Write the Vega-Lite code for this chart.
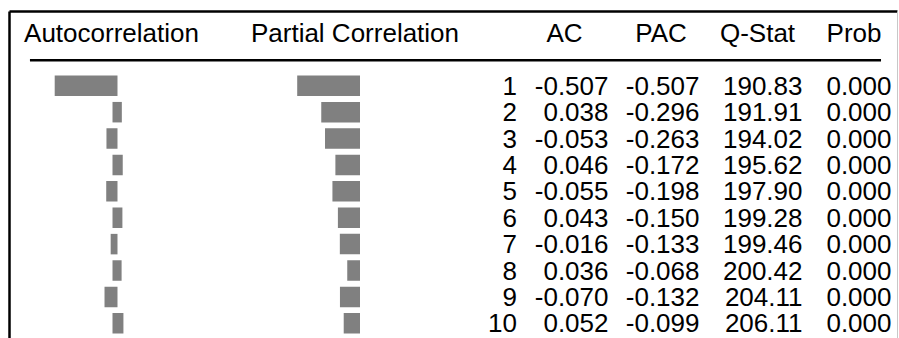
{
  "$schema": "https://vega.github.io/schema/vega-lite/v6.json",
  "width": 888,
  "height": 327,
  "autosize": {"type": "none"},
  "padding": {"left": 9, "top": 11, "right": 2, "bottom": 0},
  "background": "white",
  "config": {
    "view": {"stroke": null},
    "locale": {"number": {"decimal": ".", "thousands": ",", "grouping": [3], "currency": ["$", ""], "minus": "-"}},
    "text": {"font": "Liberation Sans", "fontSize": 26, "color": "#000000"}
  },
  "datasets": {
    "acf": [
      {"lag": 1, "AC": -0.507, "PAC": -0.507, "QStat": 190.83, "Prob": 0.0},
      {"lag": 2, "AC": 0.038, "PAC": -0.296, "QStat": 191.91, "Prob": 0.0},
      {"lag": 3, "AC": -0.053, "PAC": -0.263, "QStat": 194.02, "Prob": 0.0},
      {"lag": 4, "AC": 0.046, "PAC": -0.172, "QStat": 195.62, "Prob": 0.0},
      {"lag": 5, "AC": -0.055, "PAC": -0.198, "QStat": 197.90, "Prob": 0.0},
      {"lag": 6, "AC": 0.043, "PAC": -0.150, "QStat": 199.28, "Prob": 0.0},
      {"lag": 7, "AC": -0.016, "PAC": -0.133, "QStat": 199.46, "Prob": 0.0},
      {"lag": 8, "AC": 0.036, "PAC": -0.068, "QStat": 200.42, "Prob": 0.0},
      {"lag": 9, "AC": -0.070, "PAC": -0.132, "QStat": 204.11, "Prob": 0.0},
      {"lag": 10, "AC": 0.052, "PAC": -0.099, "QStat": 206.11, "Prob": 0.0}
    ]
  },
  "resolve": {"scale": {"x": "independent"}, "axis": {"y": "independent"}},
  "layer": [
    {
      "data": {"values": [{"a": 0}]},
      "mark": {"type": "rule", "stroke": "#000000", "strokeWidth": 2.5},
      "encoding": {
        "x": {"datum": 0.0236, "type": "quantitative", "scale": {"domain": [0, 1], "nice": false, "zero": false},
              "axis": {"orient": "top", "domain": true, "domainColor": "#000000", "domainWidth": 2.5, "labels": false, "ticks": false, "grid": false, "title": null}},
        "x2": {"datum": 0.982},
        "y": {"datum": 0.0338, "type": "quantitative", "scale": {"domain": [-1.6451, 10.3681], "reverse": true, "nice": false, "zero": false},
              "axis": {"orient": "left", "domain": true, "domainColor": "#000000", "domainWidth": 2.5, "labels": false, "ticks": false, "grid": false, "title": null}}
      }
    },
    {
      "data": {"name": "acf"},
      "mark": {"type": "bar", "orient": "horizontal", "height": 15.5, "fill": "#808080", "stroke": "#808080", "strokeWidth": 5, "strokeJoin": "miter"},
      "encoding": {
        "x": {"field": "AC", "type": "quantitative", "scale": {"domain": [-0.92982, 6.85965], "nice": false, "zero": false}, "axis": null},
        "x2": {"datum": 0},
        "y": {"field": "lag", "type": "quantitative", "scale": {"domain": [-1.6451, 10.3681], "reverse": true, "nice": false, "zero": false},
              "axis": {"orient": "right", "domain": true, "domainColor": "#c8c8c8", "domainWidth": 1, "labels": false, "ticks": false, "grid": false, "title": null}}
      }
    },
    {
      "data": {"name": "acf"},
      "mark": {"type": "bar", "orient": "horizontal", "height": 15.5, "fill": "#808080", "stroke": "#808080", "strokeWidth": 5, "strokeJoin": "miter"},
      "encoding": {
        "x": {"field": "PAC", "type": "quantitative", "scale": {"domain": [-3.05702, 4.73245], "nice": false, "zero": false}, "axis": null},
        "x2": {"datum": 0},
        "y": {"field": "lag", "type": "quantitative", "scale": {"domain": [-1.6451, 10.3681], "reverse": true, "nice": false, "zero": false}, "axis": null}
      }
    },
    {
      "data": {"values": [{"h": "Autocorrelation"}]},
      "mark": {"type": "text", "align": "center", "baseline": "alphabetic", "dx": -3.5},
      "encoding": {
        "x": {"datum": 0, "type": "quantitative", "scale": {"domain": [-0.92982, 6.85965], "nice": false, "zero": false}, "axis": null},
        "y": {"datum": -0.6716, "type": "quantitative", "scale": {"domain": [-1.6451, 10.3681], "reverse": true, "nice": false, "zero": false}, "axis": null},
        "text": {"field": "h"}
      }
    },
    {
      "data": {"values": [{"h": "Partial Correlation"}]},
      "mark": {"type": "text", "align": "center", "baseline": "alphabetic", "dx": -2.5},
      "encoding": {
        "x": {"datum": 0, "type": "quantitative", "scale": {"domain": [-3.05702, 4.73245], "nice": false, "zero": false}, "axis": null},
        "y": {"datum": -0.6716, "type": "quantitative", "scale": {"domain": [-1.6451, 10.3681], "reverse": true, "nice": false, "zero": false}, "axis": null},
        "text": {"field": "h"}
      }
    },
    {
      "data": {"values": [{"h": "AC"}, {"h": "PAC"}, {"h": "Q-Stat"}, {"h": "Prob"}]},
      "mark": {"type": "text", "align": "center", "baseline": "alphabetic"},
      "encoding": {
        "x": {"field": "h", "type": "nominal", "scale": {"type": "point", "domain": ["lag", "AC", "PAC", "Q-Stat", "Prob"], "range": [459, 845], "padding": 0}, "axis": null},
        "y": {"datum": -0.6716, "type": "quantitative", "scale": {"domain": [-1.6451, 10.3681], "reverse": true, "nice": false, "zero": false}, "axis": null},
        "text": {"field": "h"}
      }
    },
    {
      "data": {"name": "acf"},
      "mark": {"type": "text", "align": "right", "baseline": "alphabetic", "dx": 49, "dy": 9},
      "encoding": {
        "x": {"datum": "lag", "type": "nominal", "scale": {"type": "point", "domain": ["lag", "AC", "PAC", "Q-Stat", "Prob"], "range": [459, 845], "padding": 0}, "axis": null},
        "y": {"field": "lag", "type": "quantitative", "scale": {"domain": [-1.6451, 10.3681], "reverse": true, "nice": false, "zero": false}, "axis": null},
        "text": {"field": "lag", "type": "quantitative", "format": "d"}
      }
    },
    {
      "data": {"name": "acf"},
      "mark": {"type": "text", "align": "right", "baseline": "alphabetic", "dx": 44, "dy": 9},
      "encoding": {
        "x": {"datum": "AC", "type": "nominal", "scale": {"type": "point", "domain": ["lag", "AC", "PAC", "Q-Stat", "Prob"], "range": [459, 845], "padding": 0}, "axis": null},
        "y": {"field": "lag", "type": "quantitative", "scale": {"domain": [-1.6451, 10.3681], "reverse": true, "nice": false, "zero": false}, "axis": null},
        "text": {"field": "AC", "type": "quantitative", "format": ".3f"}
      }
    },
    {
      "data": {"name": "acf"},
      "mark": {"type": "text", "align": "right", "baseline": "alphabetic", "dx": 38.5, "dy": 9},
      "encoding": {
        "x": {"datum": "PAC", "type": "nominal", "scale": {"type": "point", "domain": ["lag", "AC", "PAC", "Q-Stat", "Prob"], "range": [459, 845], "padding": 0}, "axis": null},
        "y": {"field": "lag", "type": "quantitative", "scale": {"domain": [-1.6451, 10.3681], "reverse": true, "nice": false, "zero": false}, "axis": null},
        "text": {"field": "PAC", "type": "quantitative", "format": ".3f"}
      }
    },
    {
      "data": {"name": "acf"},
      "mark": {"type": "text", "align": "right", "baseline": "alphabetic", "dx": 45, "dy": 9},
      "encoding": {
        "x": {"datum": "Q-Stat", "type": "nominal", "scale": {"type": "point", "domain": ["lag", "AC", "PAC", "Q-Stat", "Prob"], "range": [459, 845], "padding": 0}, "axis": null},
        "y": {"field": "lag", "type": "quantitative", "scale": {"domain": [-1.6451, 10.3681], "reverse": true, "nice": false, "zero": false}, "axis": null},
        "text": {"field": "QStat", "type": "quantitative", "format": ".2f"}
      }
    },
    {
      "data": {"name": "acf"},
      "mark": {"type": "text", "align": "right", "baseline": "alphabetic", "dx": 37.5, "dy": 9},
      "encoding": {
        "x": {"datum": "Prob", "type": "nominal", "scale": {"type": "point", "domain": ["lag", "AC", "PAC", "Q-Stat", "Prob"], "range": [459, 845], "padding": 0}, "axis": null},
        "y": {"field": "lag", "type": "quantitative", "scale": {"domain": [-1.6451, 10.3681], "reverse": true, "nice": false, "zero": false}, "axis": null},
        "text": {"field": "Prob", "type": "quantitative", "format": ".3f"}
      }
    }
  ]
}
